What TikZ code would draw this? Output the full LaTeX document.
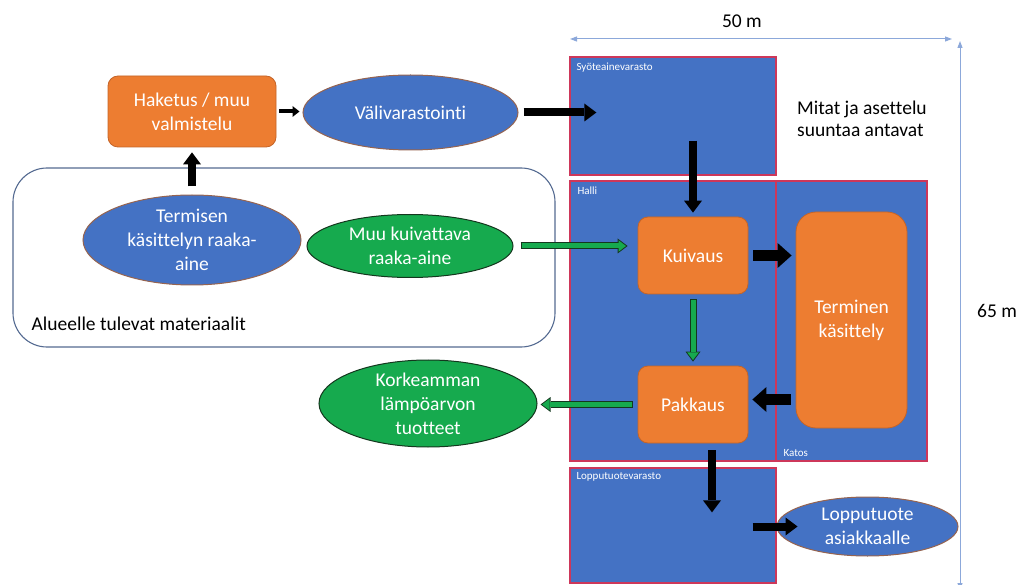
\documentclass[tikz,border=0pt]{standalone}
\usepackage{fontspec}
\setmainfont{Carlito}[Ligatures=NoCommon]
\usepackage{xcolor}
\usepackage{tikz}
\usetikzlibrary{arrows.meta,calc,shapes.geometric}

\definecolor{boxblue}{RGB}{68,114,196}
\definecolor{boxorange}{RGB}{237,125,49}
\definecolor{boxgreen}{RGB}{22,170,78}
\definecolor{orangeline}{RGB}{196,100,40}
\definecolor{ovalline}{RGB}{150,100,80}
\definecolor{greenline}{RGB}{20,55,30}
\definecolor{roomred}{RGB}{205,55,90}
\definecolor{framegrey}{RGB}{84,106,145}
\definecolor{dimblue}{RGB}{140,168,218}

\begin{document}
\begin{tikzpicture}[x=1pt, y=-1pt,
    every node/.style={font=\fontsize{19.5}{24}\selectfont},
    frame/.style={draw=framegrey, line width=1.1pt, rounded corners=34pt, inner sep=0pt},
    room/.style={draw=roomred, line width=1.3pt, fill=boxblue, inner sep=0pt},
    tag/.style={text=white, font=\fontsize{11}{13}\selectfont, inner sep=0pt},
    orangebox/.style={draw=orangeline, line width=0.8pt, fill=boxorange, rounded corners=10pt,
      text=white, align=center, inner sep=0pt},
    blueoval/.style={ellipse, draw=ovalline, line width=1pt, fill=boxblue, text=white,
      align=center, inner sep=-6pt},
    greenoval/.style={ellipse, draw=greenline, line width=1pt, fill=boxgreen, text=white,
      align=center, inner sep=-6pt},
    smallflow/.style={line width=4pt, -{Triangle[length=7pt,width=11pt,line width=0pt]}},
    flow/.style={line width=8pt, -{Triangle[length=12pt,width=18pt,line width=0pt]}},
    bigflow/.style={line width=11pt, -{Triangle[length=14pt,width=25pt,line width=0pt]}},
    greenflow/.style 2 args={draw=greenline, line width=7pt, shorten <=#1, shorten >=#2,
      -{Triangle[length=10pt,width=15pt,line width=0pt]},
      postaction={draw=boxgreen, line width=5pt, shorten <=#1+1pt, shorten >=#2+1.6pt,
        -{Triangle[length=7.5pt,width=11.5pt,line width=0pt]}}},
    dimline/.style={draw=dimblue, line width=1pt,
      {Triangle[length=7pt,width=5pt]}-{Triangle[length=7pt,width=5pt]}}]

  \useasboundingbox (0,0) rectangle (1031,585);

  \node[frame, minimum width=542pt, minimum height=179pt] (alue) at (284,257.5) {};
  \node[anchor=west, inner sep=0pt] (aluetag) at ($ (alue.south west) + (19,-24) $) {Alueelle tulevat materiaalit};

  \node[room, minimum width=206pt, minimum height=118pt] (syote) at (673,116) {};
  \node[room, minimum width=206pt, minimum height=280pt] (halli) at (673,321) {};
  \node[room, minimum width=151pt, minimum height=280pt] (katos) at (851.5,321) {};
  \node[room, minimum width=206pt, minimum height=115pt] (loppuvar) at (673,525.5) {};

  \node[tag, anchor=north west] (syotetag) at ($ (syote.north west) + (7,6) $) {Syöteainevarasto};
  \node[tag, anchor=north west] (hallitag) at ($ (halli.north west) + (8,6) $) {Halli};
  \node[tag, anchor=south west] (katostag) at ($ (katos.south west) + (8,-5) $) {Katos};
  \node[tag, anchor=north west] (loppuvartag) at ($ (loppuvar.north west) + (7,5) $) {Lopputuotevarasto};

  \node[orangebox, minimum width=168pt, minimum height=71pt] (haketus) at (192,111.5) {Haketus / muu\\valmistelu};
  \node[blueoval, minimum width=215pt, minimum height=75pt] (vali) at (410.5,112.5) {Välivarastointi};
  \node[blueoval, minimum width=218pt, minimum height=90pt] (termisen) at (192,240) {Termisen\\käsittelyn raaka-\\aine};
  \node[greenoval, minimum width=206pt, minimum height=63pt] (muu) at (410,246) {Muu kuivattava\\raaka-aine};

  \node[orangebox, minimum width=110pt, minimum height=77pt] (kuivaus) at (693,255.5) {Kuivaus};
  \node[orangebox, rounded corners=20pt, minimum width=111pt, minimum height=216pt] (terminen) at (851.5,320) {Terminen\\käsittely};
  \node[orangebox, minimum width=110pt, minimum height=77pt] (pakkaus) at (693,404.5) {Pakkaus};
  \node[greenoval, minimum width=218pt, minimum height=87pt] (korkea) at (428,403.5) {Korkeamman\\lämpöarvon\\tuotteet};
  \node[blueoval, minimum width=181pt, minimum height=59pt] (lopputuote) at (867.5,526.5) {Lopputuote\\asiakkaalle};

  \draw[flow, shorten <=8pt, shorten >=5pt] (termisen.north) -- (haketus.south);
  \draw[smallflow, shorten <=3pt, shorten >=3pt] (haketus.east) -- (haketus.east -| vali.west);
  \draw[flow, shorten <=5pt, shorten >=-27pt] (vali.east) -- (vali.east -| syote.west);
  \draw[flow, shorten <=-35pt, shorten >=4pt] (kuivaus.north |- syote.south) -- (kuivaus.north);
  \draw[greenflow={7pt}{10pt}] (muu.east) -- (muu.east -| kuivaus.west);
  \draw[bigflow, shorten <=5pt, shorten >=4pt] (kuivaus.east) -- (kuivaus.east -| terminen.west);
  \draw[greenflow={5pt}{4pt}] (kuivaus.south) -- (pakkaus.north);
  \draw[bigflow, shorten <=5pt, shorten >=4pt] ($ (terminen.west |- pakkaus.east) + (0,-5) $) -- ($ (pakkaus.east) + (0,-5) $);
  \draw[greenflow={5pt}{3pt}] (pakkaus.west) -- (pakkaus.west -| korkea.east);

  \coordinate (pakout) at ($ (pakkaus.south) + (19,0) $);
  \draw[flow, shorten <=7pt, shorten >=-45pt] (pakout) -- (pakout |- loppuvar.north);
  \draw[flow] ($ (loppuvar.east |- lopputuote.west) + (-24,0) $) -- ($ (lopputuote.west) + (21,0) $);

  \coordinate (wl) at (570,39);
  \coordinate (wr) at (952,39);
  \coordinate (ht) at (960,41);
  \coordinate (hb) at (960,590);
  \draw[dimline] (wl) -- (wr);
  \draw[dimline] (ht) -- (hb);
  \node (leveys) at ($ (wl)!0.45!(wr) + (0,-18) $) {50 m};
  \node (korkeus) at (997,311) {65 m};
  \node[anchor=west, align=left, inner sep=0pt, font=\fontsize{19.5}{22}\selectfont] (huom) at (797,119) {Mitat ja asettelu\\suuntaa antavat};
\end{tikzpicture}
\end{document}
